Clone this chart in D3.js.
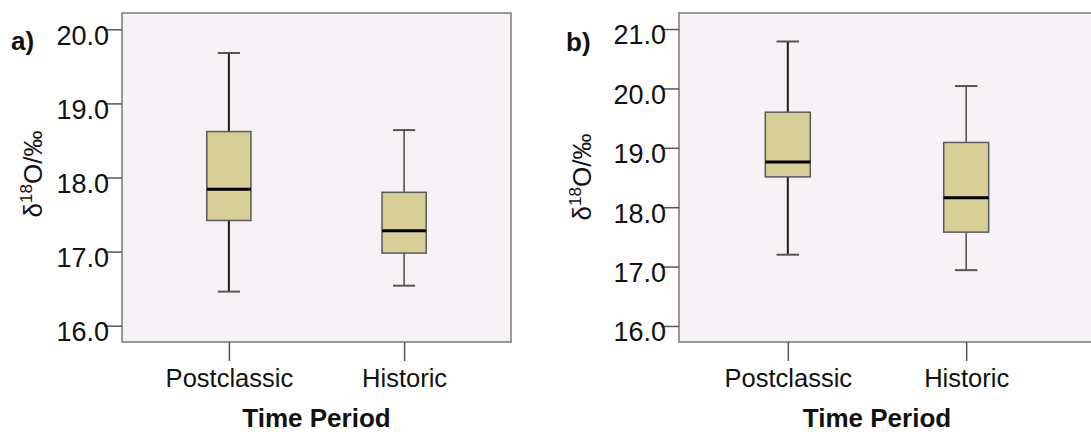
<!DOCTYPE html>
<html>
<head>
<meta charset="utf-8">
<script src="https://cdn.jsdelivr.net/npm/d3@7"></script>
<style>
  html, body { margin: 0; padding: 0; background: #ffffff; }
  svg { display: block; }
  text { font-family: "Liberation Sans", Arial, sans-serif; fill: #111; }
</style>
</head>
<body>
<svg id="chart" width="1091" height="432"></svg>
<script>
// ---- data ----
const categories = ["Postclassic", "Historic"];
// panel a
const aWhiskerHigh = [19.68, 18.64];
const aQ3          = [18.62, 17.80];
const aMedian      = [17.84, 17.28];
const aQ1          = [17.42, 16.98];
const aWhiskerLow  = [16.46, 16.54];
const aTicks       = [16.0, 17.0, 18.0, 19.0, 20.0];
// panel b
const bWhiskerHigh = [20.79, 20.04];
const bQ3          = [19.60, 19.09];
const bMedian      = [18.76, 18.16];
const bQ1          = [18.51, 17.58];
const bWhiskerLow  = [17.20, 16.94];
const bTicks       = [16.0, 17.0, 18.0, 19.0, 20.0, 21.0];

const panelLabels = ["a)", "b)"];
const xTitle = "Time Period";

const svg = d3.select("#chart");

function drawPanel(cfg) {
  const g = svg.append("g").attr("transform", `translate(${cfg.left},${cfg.top})`);
  const h = cfg.height;

  const y = d3.scaleLinear().domain(cfg.yDomain).range([h, 0]);
  const x = d3.scalePoint().domain(categories).range([0, cfg.pointSpan]).padding(cfg.padding);
  const step = x.step();
  const boxW = step * 0.252;
  const capW = boxW * 0.5;

  // frame background
  g.append("rect")
    .attr("x", 0).attr("y", 0)
    .attr("width", cfg.frameWidth).attr("height", h)
    .attr("fill", "#f6f2f6")
    .attr("stroke", "#7a7a7a").attr("stroke-width", 1.5);

  // y axis
  const yAxis = d3.axisLeft(y).tickValues(cfg.ticks).tickFormat(d3.format(".1f")).tickSize(18).tickPadding(-5);
  const ya = g.append("g").call(yAxis);
  ya.select(".domain").remove();
  ya.selectAll(".tick line").attr("stroke", "#555").attr("stroke-width", 1.5);
  ya.selectAll(".tick text")
    .attr("font-size", 27).attr("fill", "#111")
    .attr("dy", "0.55em")
    .style("font-family", "'Liberation Sans', Arial, sans-serif");

  // x axis
  const xAxis = d3.axisBottom(x).tickSize(19).tickPadding(8);
  const xa = g.append("g").attr("transform", `translate(0,${h})`).call(xAxis);
  xa.select(".domain").remove();
  xa.selectAll(".tick line").attr("stroke", "#555").attr("stroke-width", 1.5);
  xa.selectAll(".tick text")
    .attr("font-size", 25.5).attr("fill", "#111")
    .attr("dy", "0.71em")
    .style("font-family", "'Liberation Sans', Arial, sans-serif");

  const data = categories.map((c, i) => ({
    c, i,
    hi: cfg.hi[i], q3: cfg.q3[i], med: cfg.med[i], q1: cfg.q1[i], lo: cfg.lo[i]
  }));
  const whiskerColor = ["#1c1c1c", "#555555"];
  const whiskerWidth = [2, 1.6];

  const bg = g.selectAll(".box").data(data).enter().append("g").attr("class", "box");
  // whiskers
  bg.append("line")
    .attr("x1", d => x(d.c)).attr("x2", d => x(d.c))
    .attr("y1", d => y(d.hi)).attr("y2", d => y(d.q3))
    .attr("stroke", d => whiskerColor[d.i]).attr("stroke-width", d => whiskerWidth[d.i]);
  bg.append("line")
    .attr("x1", d => x(d.c)).attr("x2", d => x(d.c))
    .attr("y1", d => y(d.q1)).attr("y2", d => y(d.lo))
    .attr("stroke", d => whiskerColor[d.i]).attr("stroke-width", d => whiskerWidth[d.i]);
  // caps
  bg.append("line")
    .attr("x1", d => x(d.c) - capW / 2).attr("x2", d => x(d.c) + capW / 2)
    .attr("y1", d => y(d.hi)).attr("y2", d => y(d.hi))
    .attr("stroke", "#555").attr("stroke-width", 2);
  bg.append("line")
    .attr("x1", d => x(d.c) - capW / 2).attr("x2", d => x(d.c) + capW / 2)
    .attr("y1", d => y(d.lo)).attr("y2", d => y(d.lo))
    .attr("stroke", "#555").attr("stroke-width", 2);
  // box
  bg.append("rect")
    .attr("x", d => x(d.c) - boxW / 2).attr("width", boxW)
    .attr("y", d => y(d.q3)).attr("height", d => y(d.q1) - y(d.q3))
    .attr("fill", "#d7cf96").attr("stroke", "#5a5a5a").attr("stroke-width", 1.5);
  // median
  bg.append("line")
    .attr("x1", d => x(d.c) - boxW / 2).attr("x2", d => x(d.c) + boxW / 2)
    .attr("y1", d => y(d.med)).attr("y2", d => y(d.med))
    .attr("stroke", "#000").attr("stroke-width", 3);

  // x title
  g.append("text")
    .attr("x", (x(categories[0]) + x(categories[1])) / 2)
    .attr("y", h + 85)
    .attr("text-anchor", "middle")
    .attr("font-size", 26).attr("font-weight", "bold")
    .text(xTitle);

  // y title
  const yt = g.append("text")
    .attr("transform", `translate(${cfg.yTitleX},${cfg.yTitleY}) rotate(-90)`)
    .attr("text-anchor", "middle")
    .attr("font-size", 26);
  yt.append("tspan").text("δ");
  yt.append("tspan").attr("font-size", 17).attr("dy", "-0.6em").text("18");
  yt.append("tspan").attr("dy", "0.38em").text("O/‰");

  // panel label
  g.append("text")
    .attr("x", cfg.labelX).attr("y", cfg.labelY)
    .attr("font-size", 26).attr("font-weight", "bold")
    .text(cfg.label);
}

drawPanel({
  left: 122, top: 13, height: 329,
  frameWidth: 389, pointSpan: 389, padding: 0.61,
  yDomain: [15.78, 20.22], ticks: aTicks,
  hi: aWhiskerHigh, q3: aQ3, med: aMedian, q1: aQ1, lo: aWhiskerLow,
  yTitleX: -80, yTitleY: 161,
  label: panelLabels[0], labelX: -111, labelY: 37
});

drawPanel({
  left: 679, top: 13, height: 329,
  frameWidth: 430, pointSpan: 396, padding: 0.61,
  yDomain: [15.73, 21.27], ticks: bTicks,
  hi: bWhiskerHigh, q3: bQ3, med: bMedian, q1: bQ1, lo: bWhiskerLow,
  yTitleX: -88, yTitleY: 164,
  label: panelLabels[1], labelX: -113, labelY: 38
});
</script>
</body>
</html>
